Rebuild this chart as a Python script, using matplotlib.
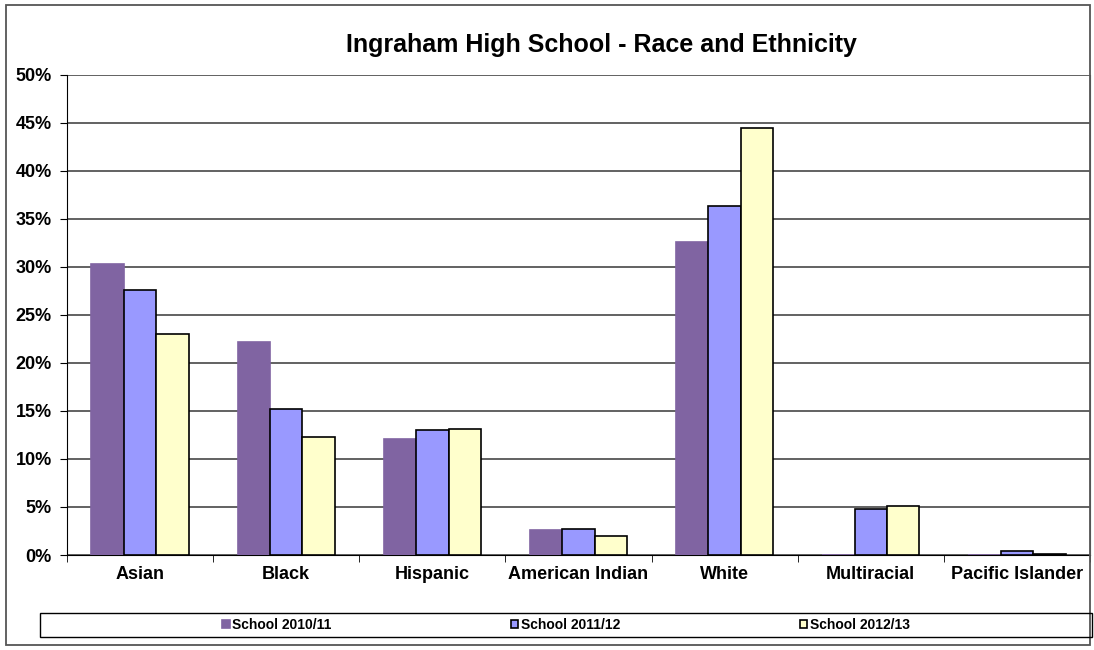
import matplotlib
matplotlib.use("Agg")
import matplotlib.pyplot as plt
import numpy as np
from matplotlib.patches import Rectangle
from matplotlib.ticker import MultipleLocator, PercentFormatter

plt.rcParams['font.family'] = ['Liberation Sans', 'DejaVu Sans']

categories = ["Asian", "Black", "Hispanic", "American Indian", "White",
              "Multiracial", "Pacific Islander"]
series_names = ["School 2010/11", "School 2011/12", "School 2012/13"]
y2010 = [30.3, 22.2, 12.1, 2.6, 32.6, 0.0, 0.0]
y2011 = [27.6, 15.2, 13.0, 2.7, 36.3, 4.8, 0.4]
y2012 = [23.0, 12.3, 13.1, 2.0, 44.5, 5.1, 0.15]

colors = ["#8064A2", "#9999FF", "#FFFFCC"]
edges = ["#8064A2", "black", "black"]

W, H = 1094, 650
fig = plt.figure(figsize=(W / 100, H / 100), dpi=100)
ax = fig.add_axes([67 / W, 1 - 555 / H, (1090 - 67) / W, (555 - 74.7) / H])

x = np.arange(len(categories))
bw = 0.222
for i, (vals, name) in enumerate(zip([y2010, y2011, y2012], series_names)):
    ax.bar(x + (i - 1) * bw, vals, width=bw, color=colors[i],
           edgecolor=edges[i], linewidth=1.2, label=name, zorder=3)

ax.set_xlim(-0.5, len(categories) - 0.5)
ax.set_ylim(0, 50)
ax.yaxis.set_major_locator(MultipleLocator(5))
ax.yaxis.set_major_formatter(PercentFormatter(decimals=0))
ax.grid(axis="y", color="#555555", linewidth=1.3, zorder=0)
ax.set_axisbelow(True)

ax.set_xticks(x)
ax.set_xticklabels(categories, fontsize=13, fontweight="bold")
ax.set_xticks(np.arange(len(categories) + 1) - 0.5, minor=True)
ax.tick_params(axis="x", which="major", length=0, pad=8)
ax.tick_params(axis="x", which="minor", length=5, direction="out")
ax.tick_params(axis="y", length=5, direction="out", labelsize=13, pad=6)
for lab in ax.get_yticklabels():
    lab.set_fontweight("bold")

for s in ["left", "bottom"]:
    ax.spines[s].set_color("black")
ax.spines["right"].set_color("#555555")
ax.spines["top"].set_visible(False)

fig.text(601 / W, 1 - 45 / H, "Ingraham High School - Race and Ethnicity",
         ha="center", va="center", fontsize=18, fontweight="bold")

# outer chart border
fig.patches.append(Rectangle((6 / W, 5 / H), (1090 - 6) / W, (645 - 5) / H,
                             transform=fig.transFigure, fill=False,
                             edgecolor="#555555", linewidth=1.3))
# legend box
fig.patches.append(Rectangle((40 / W, 1 - 637 / H), (1092 - 40) / W, 24 / H,
                             transform=fig.transFigure, fill=False,
                             edgecolor="black", linewidth=1.0))
fig.legend(loc="center", bbox_to_anchor=(566 / W, 1 - 625 / H), ncol=3,
           frameon=False, prop={"weight": "bold", "size": 10},
           handlelength=0.55, handleheight=0.55, handletextpad=0.2,
           columnspacing=12.9)

fig.savefig("out.png", dpi=100)
